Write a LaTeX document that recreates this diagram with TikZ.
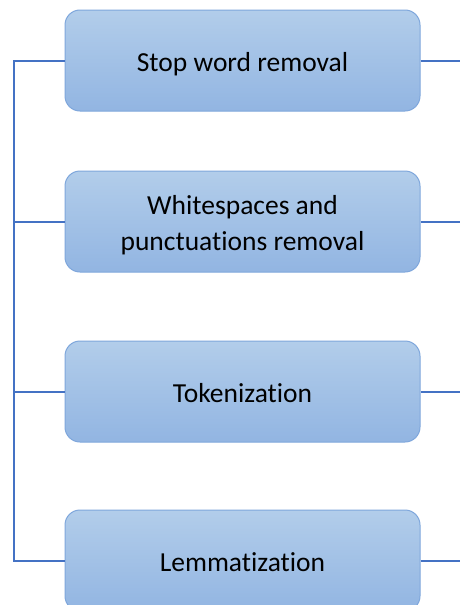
\documentclass[tikz,border=0pt]{standalone}
\usepackage{fontspec}
\setmainfont[Ligatures=CommonOff]{Carlito}
\usetikzlibrary{shadings}
\definecolor{boxtop}{HTML}{B2CDEA}
\definecolor{boxbot}{HTML}{92B5E2}
\definecolor{boxline}{HTML}{7FA7DC}
\definecolor{linkline}{HTML}{4472C4}
\tikzset{
  stepfont/.style={font=\fontsize{27.5}{36}\selectfont, text=black, align=center},
  stepbox/.style={draw=boxline, line width=1pt, rounded corners=15pt,
    top color=boxtop, bottom color=boxbot,
    minimum width=355pt, minimum height=101pt, stepfont},
  oneline/.style={text height=27pt, text depth=6pt},
  link/.style={draw=linkline, line width=2pt}
}
\begin{document}
\begin{tikzpicture}[x=1pt,y=-1pt]
\useasboundingbox (0,0) rectangle (460,605);
\clip (0,0) rectangle (460,605);
\fill[white] (0,0) rectangle (460,605);
\node[stepbox,oneline] (b1) at (242.5,60.5) {Stop word removal};
\node[stepbox] (b2) at (242.5,221.5) {};
\node[stepfont] (b2text) at (242.5,225.5) {Whitespaces and\\punctuations removal};
\node[stepbox,oneline] (b3) at (242.5,391.5) {Tokenization};
\node[stepbox,oneline] (b4) at (242.5,560.5) {Lemmatization};
% left spine joining all steps
\coordinate (top) at (14,60.5);
\coordinate (bot) at (14,560.5);
\draw[link] (b1.west) -- (top) -- (bot) -- (b4.west);
\foreach \n in {b2,b3}
  \draw[link] (\n.west) -- (\n.west -| top);
% outgoing stubs on the right
\foreach \n in {b1,b2,b3,b4}
  \draw[link] (\n.east) -- ++(45,0);
\end{tikzpicture}
\end{document}
